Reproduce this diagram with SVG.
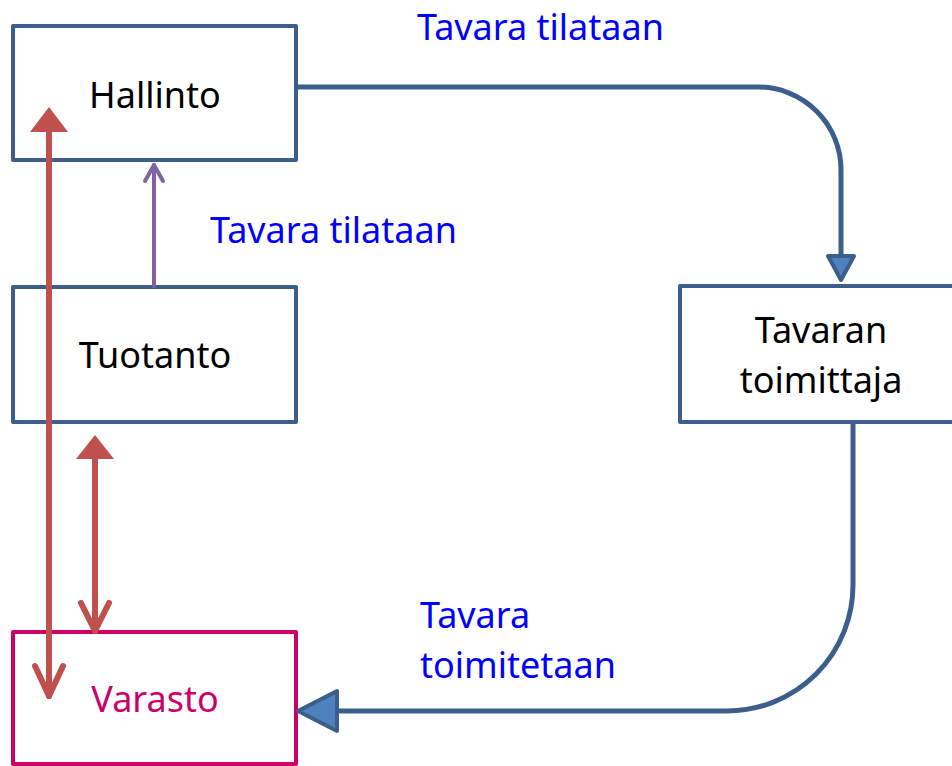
<svg xmlns="http://www.w3.org/2000/svg" width="952" height="766" viewBox="0 0 952 766">
<style>
.box{fill:#fff;stroke:#3B5E8C;stroke-width:4;stroke-linejoin:round}
.boxm{fill:#fff;stroke:#CC0066;stroke-width:4;stroke-linejoin:round}
.lbl{font-family:"Noto Sans","Open Sans","Liberation Sans",sans-serif;font-size:36px}
.blk{fill:#000;text-anchor:middle}
.blue{fill:#0000FF}
.mag{fill:#CC0066;text-anchor:middle}
.conn{fill:none;stroke:#3B5E8C;stroke-width:5}
.head{fill:#4F81BD;stroke:#3B5E8C;stroke-width:4;stroke-linejoin:round}
.red{fill:none;stroke:#C0504D;stroke-width:6;stroke-linecap:round;stroke-linejoin:round}
.redh{fill:#C0504D;stroke:none}
.pur{fill:none;stroke:#8064A2;stroke-width:4;stroke-linecap:round;stroke-linejoin:round}
</style>
<rect width="952" height="766" fill="#fff"/>
<g id="hallinto">
<rect class="box" x="13" y="26" width="283" height="134"/>
<text class="lbl blk" x="155" y="108">Hallinto</text>
</g>
<g id="tuotanto">
<rect class="box" x="13" y="287" width="283" height="135"/>
<text class="lbl blk" x="155" y="368">Tuotanto</text>
</g>
<g id="toimittaja">
<rect class="box" x="680" y="286" width="300" height="136"/>
<text class="lbl blk" x="821" y="343">Tavaran</text>
<text class="lbl blk" x="821" y="393">toimittaja</text>
</g>
<g id="varasto">
<rect class="boxm" x="13" y="632" width="283" height="132"/>
<text class="lbl mag" x="155" y="712">Varasto</text>
</g>
<g id="connectors">
<path class="conn" d="M296,87 H758 A83,83 0 0 1 841,170 V256"/>
<polygon class="head" points="828,256 854,256 841,280"/>
<path class="conn" d="M853,422 V585 A126,126 0 0 1 727,711 H337"/>
<polygon class="head" points="337,691 337,731 298,711"/>
<line class="red" x1="49" y1="130" x2="49" y2="696"/>
<polygon class="redh" points="30,132 68,132 49,107"/>
<polyline class="red" points="35,666 49,696 63,666"/>
<line class="red" x1="95" y1="456" x2="95" y2="631"/>
<polygon class="redh" points="76,459 114,459 95,435"/>
<polyline class="red" points="81,603 95,631 109,603"/>
<line class="pur" x1="154" y1="286" x2="154" y2="165"/>
<polyline class="pur" points="145,181 154,165 163,181"/>
</g>
<g id="labels">
<text class="lbl blue" x="417" y="40">Tavara tilataan</text>
<text class="lbl blue" x="210" y="243">Tavara tilataan</text>
<text class="lbl blue" x="420" y="628">Tavara</text>
<text class="lbl blue" x="420" y="678">toimitetaan</text>
</g>
</svg>
